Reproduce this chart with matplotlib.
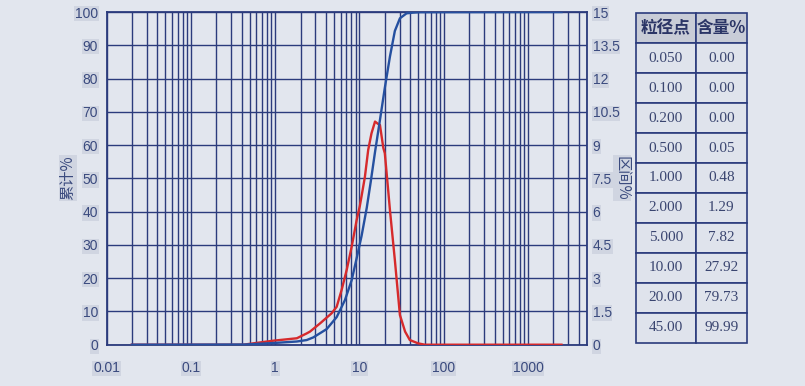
import numpy as np
import matplotlib
matplotlib.use('Agg')
import matplotlib.pyplot as plt
from matplotlib.ticker import LogLocator, FixedLocator, NullFormatter

plt.rcParams['font.family'] = ['Liberation Sans Narrow', 'Liberation Sans', 'Noto Sans CJK SC', 'DejaVu Sans']

# 累计曲线 (左轴)
cum_size = [0.02, 0.44, 0.947, 1.81, 2.37, 2.84, 4.09, 5.37, 6.73, 8.09, 9.27, 10.6,
            12.2, 13.6, 15.3, 17.5, 20.0, 23.0, 26.3, 30.2, 36.2, 43.0, 52.0, 2490]
cum_val = [0, 0.06, 0.5, 0.96, 1.4, 2.2, 4.7, 8.3, 13.4, 19.4, 26.0, 32.7,
           41.1, 48.9, 57.9, 67.5, 77.2, 86.6, 94.3, 98.1, 99.6, 99.8, 99.95, 100]

# 区间曲线 (右轴)
diff_size = [0.02, 0.418, 0.947, 1.81, 2.37, 2.59, 3.41, 4.69, 5.37, 6.15, 7.06, 8.09,
             9.27, 10.1, 10.6, 11.6, 12.7, 13.9, 15.3, 16.7, 17.5, 19.2, 20.0, 21.9,
             23.0, 26.3, 30.2, 34.8, 39.6, 49.7, 59.6, 2490]
diff_val = [0, 0, 0.18, 0.29, 0.51, 0.59, 0.96, 1.42, 1.71, 2.47, 3.37, 4.42,
            5.62, 6.25, 6.70, 7.56, 8.78, 9.53, 10.06, 9.95, 9.91, 8.87, 8.63, 6.98,
            6.07, 3.82, 1.34, 0.59, 0.21, 0.06, 0, 0]

# 表格
tab_size = ['0.050', '0.100', '0.200', '0.500', '1.000', '2.000', '5.000', '10.00', '20.00', '45.00']
tab_pct = ['0.00', '0.00', '0.00', '0.05', '0.48', '1.29', '7.82', '27.92', '79.73', '99.99']

bg = '#e2e6ee'
navy = '#2b3b7c'
txt = '#3a4a7e'

fig = plt.figure(figsize=(8.05, 3.86), dpi=100, facecolor=bg)
ax = fig.add_axes([106.5 / 805, 1 - 344.7 / 386, (587 - 106.5) / 805, (344.7 - 12) / 386])
ax.set_facecolor(bg)
ax.set_xscale('log')
ax.set_xlim(0.01, 5000)
ax.set_ylim(0, 100)
ax.set_yticks(np.arange(0, 101, 10))
ax.xaxis.set_major_locator(FixedLocator([0.01, 0.1, 1, 10, 100, 1000]))
ax.xaxis.set_minor_locator(LogLocator(base=10, subs=np.arange(2, 10), numticks=20))
ax.xaxis.set_minor_formatter(NullFormatter())
ax.set_xticklabels(['0.01', '0.1', '1', '10', '100', '1000'])
ax.grid(True, which='both', axis='x', color=navy, lw=1.0)
ax.grid(True, which='major', axis='y', color=navy, lw=1.0)
for s in ax.spines.values():
    s.set_color(navy)
    s.set_linewidth(1.3)

lbl_box = dict(boxstyle='square,pad=0.05', fc='#d0d5e1', ec='none')
ax.tick_params(axis='both', which='both', length=0, colors=txt, labelsize=10)
ax.tick_params(axis='x', pad=12)
ax.tick_params(axis='y', pad=6)

ax2 = ax.twinx()
ax2.set_ylim(0, 15)
ax2.set_yticks(np.arange(0, 15.1, 1.5))
ax2.set_yticklabels(['0', '1.5', '3', '4.5', '6', '7.5', '9', '10.5', '12', '13.5', '15'])
ax2.tick_params(axis='y', length=0, colors=txt, labelsize=10, pad=4)
for s in ax2.spines.values():
    s.set_visible(False)

ax2.plot(diff_size, diff_val, color='#d62a2c', lw=1.7, zorder=3)
ax2.plot(np.array(cum_size), np.array(cum_val) * 0.15, color='#2550a0', lw=1.7, zorder=4)

for t in ax.get_xticklabels() + ax.get_yticklabels() + ax2.get_yticklabels():
    t.set_bbox(lbl_box)

fig.text(68 / 805, 1 - 178 / 386, '累计%', rotation=90, ha='center', va='center',
         color=txt, fontsize=11, family=['Noto Sans CJK SC', 'DejaVu Sans'],
         bbox=lbl_box)
fig.text(622 / 805, 1 - 178 / 386, '区间%', rotation=270, ha='center', va='center',
         color=txt, fontsize=11, family=['Noto Sans CJK SC', 'DejaVu Sans'],
         bbox=lbl_box)

# 表格
tx = fig.add_axes([636 / 805, 1 - 342.7 / 386, (747 - 636) / 805, (342.7 - 13.3) / 386])
tx.axis('off')
cells = [[a, b] for a, b in zip(tab_size, tab_pct)]
tb = tx.table(cellText=cells, colLabels=['粒径点', '含量%'], bbox=[0, 0, 1, 1],
              cellLoc='center', colWidths=[0.54, 0.46])
tb.auto_set_font_size(False)
for (r, c), cell in tb.get_celld().items():
    cell.set_edgecolor(navy)
    cell.set_linewidth(1.2)
    if r == 0:
        cell.set_facecolor('#c8ccd7')
        cell.get_text().set_fontsize(12)
        cell.get_text().set_color('#2b3566')
        cell.get_text().set_fontweight('bold')
        cell.get_text().set_family(['Noto Sans CJK SC', 'DejaVu Sans'])
    else:
        cell.set_facecolor('#dfe3ec')
        cell.get_text().set_fontsize(11)
        cell.get_text().set_color('#3a4570')
        cell.get_text().set_family(['Liberation Serif', 'DejaVu Serif'])

fig.savefig('out.png', dpi=100, facecolor=bg)
